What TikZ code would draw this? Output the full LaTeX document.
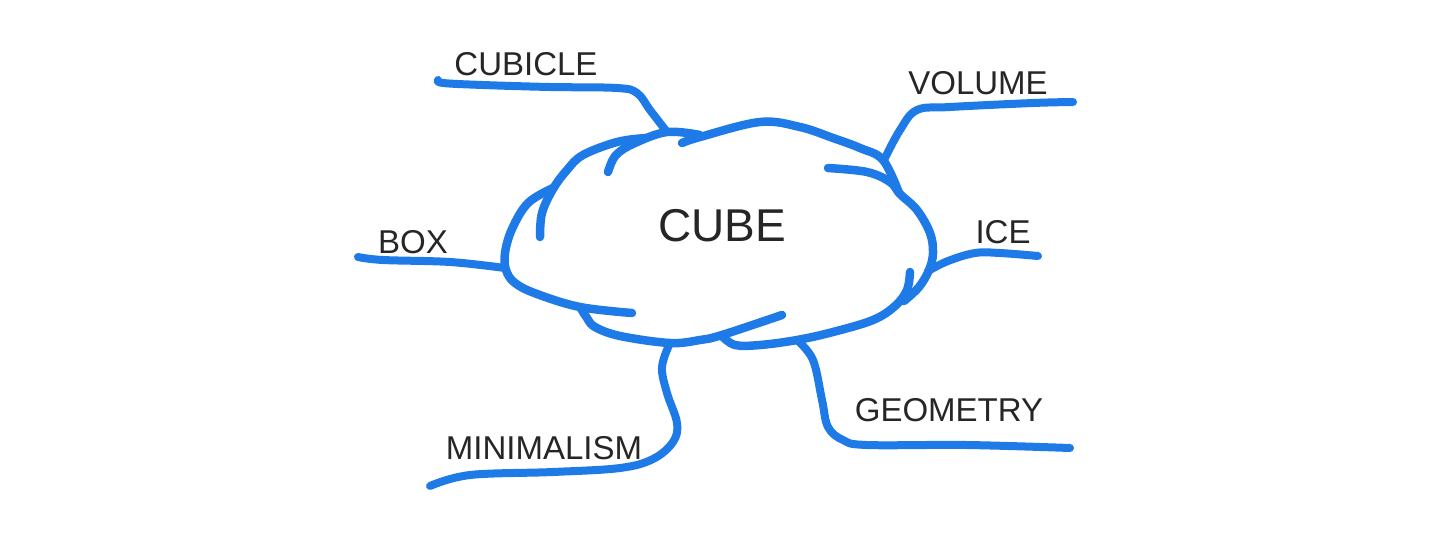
\documentclass[tikz,border=0pt]{standalone}
\usepackage{fontspec}
\setmainfont{Liberation Sans}
\definecolor{marker}{RGB}{30,122,230}

\begin{document}
\begin{tikzpicture}[x=1pt, y=-1pt,
  every node/.style = {inner sep=0pt, text=black!85,
    font=\fontsize{33}{33}\selectfont},
  puff/.style = {draw=marker, line width=8.5pt, line cap=round,
    line join=round, smooth, tension=0.6},
  branch/.style = {puff, line width=8pt}]
  \useasboundingbox (0,0) rectangle (1440,544);

  % the cloud, one scallop at a time
  \draw[puff] plot coordinates {(553,188) (528,203) (512,229) (505,253)
    (506,270) (515,283) (537,294) (580,307) (632,313)};
  \draw[puff] plot coordinates {(540,237) (542,213) (553,189) (567,170)
    (583,155) (617,142) (646,138)};
  \draw[puff] plot coordinates {(608,172) (616,155) (635,143) (667,132)
    (700,135)};
  \draw[puff] plot coordinates {(682,143) (700,137) (760,122) (800,127)
    (833,138) (860,148) (883,160) (899,193)};
  \draw[puff] plot coordinates {(828,168) (867,172) (890,182) (900,194)
    (917,210) (930,233) (933,253) (929,270) (919,287) (904,301)};
  \draw[puff] plot coordinates {(910,272) (907,290) (895,306) (873,320)
    (833,332) (797,340) (760,345) (735,345) (722,336)};
  \draw[puff] plot coordinates {(580,307) (587,318) (595,327) (620,336)
    (670,343) (700,340) (722,335) (782,315)};

  \node (cube) at (722,226) {\fontsize{46}{46}\selectfont CUBE};

  % where the branches leave the cloud
  \coordinate (j-cubicle) at (667,132);
  \coordinate (j-box) at (505,268);
  \coordinate (j-volume) at (884,160);
  \coordinate (j-ice) at (928,271);
  \coordinate (j-minimalism) at (670,343);
  \coordinate (j-geometry) at (797,340);

  % free ends of the branches
  \coordinate (e-cubicle) at (438,80);
  \coordinate (e-box) at (358,257);
  \coordinate (e-volume) at (1073,102);
  \coordinate (e-ice) at (1038,256);
  \coordinate (e-minimalism) at (430,486);
  \coordinate (e-geometry) at (1070,448);

  \node (cubicle) at (526,64) {CUBICLE};
  \node (box) at (413,242) {BOX};
  \node (volume) at (978,83) {VOLUME};
  \node (ice) at (1003,232) {ICE};
  \node (minimalism) at (544,448) {MINIMALISM};
  \node (geometry) at (949,410) {GEOMETRY};

  \draw[branch] plot coordinates {(j-cubicle) (650,110) (637,93) (617,88)
    (550,87) (483,85) (443,83) (e-cubicle)};
  \draw[branch] plot coordinates {(j-box) (450,262) (383,260) (e-box)};
  \draw[branch] plot coordinates {(j-volume) (900,130) (917,110) (950,107)
    (1033,103) (e-volume)};
  \draw[branch] plot coordinates {(j-ice) (948,261) (975,253) (1000,253)
    (e-ice)};
  \draw[branch] plot coordinates {(j-minimalism) (662,367) (667,393)
    (677,423) (673,442) (653,459) (620,468) (553,472) (470,475)
    (e-minimalism)};
  \draw[branch] plot coordinates {(j-geometry) (813,360) (822,400)
    (828,427) (843,440) (867,445) (967,445) (e-geometry)};
\end{tikzpicture}
\end{document}
